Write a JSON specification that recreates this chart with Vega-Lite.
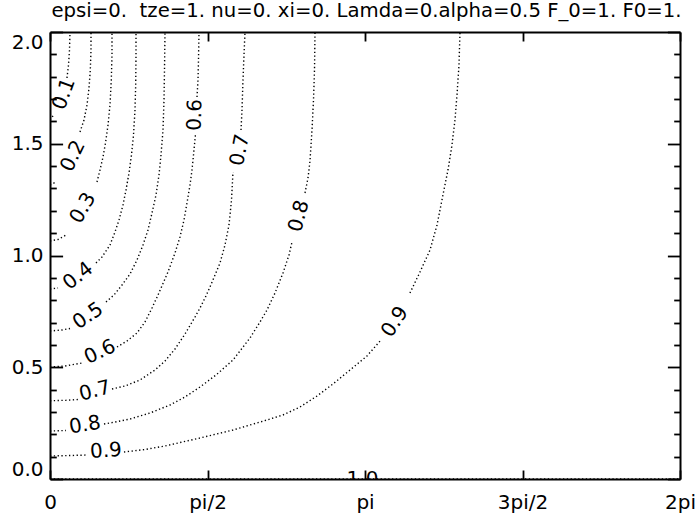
{
  "$schema": "https://vega.github.io/schema/vega-lite/v6.json",
  "width": 630,
  "height": 447,
  "autosize": {"type": "none"},
  "padding": {"left": 50, "top": 32, "right": 15, "bottom": 38},
  "background": "white",
  "config": {"view": {"stroke": null}, "font": "DejaVu Sans"},
  "title": {"text": "epsi=0.\u00a0 tze=1. nu=0. xi=0. Lamda=0.alpha=0.5 F_0=1. F0=1.", "font": "DejaVu Sans", "fontSize": 19.7, "fontWeight": "normal", "color": "black", "anchor": "middle", "frame": "group", "baseline": "alphabetic", "offset": 14, "dx": 1.5, "dy": 20},
  "datasets": {
    "contours": [
      {"level": 0.1, "seg": "0.1a", "x": 0, "y": 1.6063}, {"level": 0.1, "seg": "0.1a", "x": 0.0399, "y": 1.6309},
      {"level": 0.1, "seg": "0.1b", "x": 0.1695, "y": 1.7942}, {"level": 0.1, "seg": "0.1b", "x": 0.1845, "y": 1.8524}, {"level": 0.1, "seg": "0.1b", "x": 0.1945, "y": 1.9195}, {"level": 0.1, "seg": "0.1b", "x": 0.1995, "y": 2},
      {"level": 0.2, "seg": "0.2a", "x": 0, "y": 1.3154}, {"level": 0.2, "seg": "0.2a", "x": 0.0598, "y": 1.3289},
      {"level": 0.2, "seg": "0.2b", "x": 0.2992, "y": 1.5526}, {"level": 0.2, "seg": "0.2b", "x": 0.3391, "y": 1.6063}, {"level": 0.2, "seg": "0.2b", "x": 0.369, "y": 1.6734}, {"level": 0.2, "seg": "0.2b", "x": 0.389, "y": 1.7494}, {"level": 0.2, "seg": "0.2b", "x": 0.4019, "y": 1.83}, {"level": 0.2, "seg": "0.2b", "x": 0.4089, "y": 1.9195}, {"level": 0.2, "seg": "0.2b", "x": 0.4089, "y": 2},
      {"level": 0.3, "seg": "0.3a", "x": 0, "y": 1.0649}, {"level": 0.3, "seg": "0.3a", "x": 0.0798, "y": 1.0716}, {"level": 0.3, "seg": "0.3a", "x": 0.1596, "y": 1.0917},
      {"level": 0.3, "seg": "0.3b", "x": 0.4687, "y": 1.3289}, {"level": 0.3, "seg": "0.3b", "x": 0.4987, "y": 1.3826}, {"level": 0.3, "seg": "0.3b", "x": 0.5286, "y": 1.4407}, {"level": 0.3, "seg": "0.3b", "x": 0.5535, "y": 1.5034}, {"level": 0.3, "seg": "0.3b", "x": 0.5785, "y": 1.5839}, {"level": 0.3, "seg": "0.3b", "x": 0.5984, "y": 1.6734}, {"level": 0.3, "seg": "0.3b", "x": 0.6114, "y": 1.7852}, {"level": 0.3, "seg": "0.3b", "x": 0.6183, "y": 1.8971}, {"level": 0.3, "seg": "0.3b", "x": 0.6183, "y": 2},
      {"level": 0.4, "seg": "0.4a", "x": 0, "y": 0.8501}, {"level": 0.4, "seg": "0.4a", "x": 0.0798, "y": 0.8546},
      {"level": 0.4, "seg": "0.4b", "x": 0.4588, "y": 0.9664}, {"level": 0.4, "seg": "0.4b", "x": 0.5186, "y": 0.9933}, {"level": 0.4, "seg": "0.4b", "x": 0.5984, "y": 1.047}, {"level": 0.4, "seg": "0.4b", "x": 0.6483, "y": 1.1052}, {"level": 0.4, "seg": "0.4b", "x": 0.6882, "y": 1.1588}, {"level": 0.4, "seg": "0.4b", "x": 0.728, "y": 1.226}, {"level": 0.4, "seg": "0.4b", "x": 0.758, "y": 1.2931}, {"level": 0.4, "seg": "0.4b", "x": 0.7879, "y": 1.3691}, {"level": 0.4, "seg": "0.4b", "x": 0.8128, "y": 1.4497}, {"level": 0.4, "seg": "0.4b", "x": 0.8328, "y": 1.5392}, {"level": 0.4, "seg": "0.4b", "x": 0.8477, "y": 1.651}, {"level": 0.4, "seg": "0.4b", "x": 0.8547, "y": 1.7629}, {"level": 0.4, "seg": "0.4b", "x": 0.8577, "y": 1.8971}, {"level": 0.4, "seg": "0.4b", "x": 0.8577, "y": 2},
      {"level": 0.5, "seg": "0.5a", "x": 0, "y": 0.6622}, {"level": 0.5, "seg": "0.5a", "x": 0.1197, "y": 0.6667}, {"level": 0.5, "seg": "0.5a", "x": 0.1995, "y": 0.6734},
      {"level": 0.5, "seg": "0.5b", "x": 0.5585, "y": 0.792}, {"level": 0.5, "seg": "0.5b", "x": 0.6383, "y": 0.8233}, {"level": 0.5, "seg": "0.5b", "x": 0.7181, "y": 0.868}, {"level": 0.5, "seg": "0.5b", "x": 0.7979, "y": 0.9172}, {"level": 0.5, "seg": "0.5b", "x": 0.8677, "y": 0.9799}, {"level": 0.5, "seg": "0.5b", "x": 0.9275, "y": 1.047}, {"level": 0.5, "seg": "0.5b", "x": 0.9774, "y": 1.1141}, {"level": 0.5, "seg": "0.5b", "x": 1.0173, "y": 1.1902}, {"level": 0.5, "seg": "0.5b", "x": 1.0572, "y": 1.2707}, {"level": 0.5, "seg": "0.5b", "x": 1.0871, "y": 1.3602}, {"level": 0.5, "seg": "0.5b", "x": 1.107, "y": 1.4497}, {"level": 0.5, "seg": "0.5b", "x": 1.127, "y": 1.5615}, {"level": 0.5, "seg": "0.5b", "x": 1.137, "y": 1.6958}, {"level": 0.5, "seg": "0.5b", "x": 1.1419, "y": 1.83}, {"level": 0.5, "seg": "0.5b", "x": 1.1469, "y": 2},
      {"level": 0.6, "seg": "0.6a", "x": 0, "y": 0.5011}, {"level": 0.6, "seg": "0.6a", "x": 0.1496, "y": 0.5056}, {"level": 0.6, "seg": "0.6a", "x": 0.3191, "y": 0.519},
      {"level": 0.6, "seg": "0.6b", "x": 0.6682, "y": 0.5906}, {"level": 0.6, "seg": "0.6b", "x": 0.7679, "y": 0.6175}, {"level": 0.6, "seg": "0.6b", "x": 0.8677, "y": 0.6532}, {"level": 0.6, "seg": "0.6b", "x": 0.9475, "y": 0.7025}, {"level": 0.6, "seg": "0.6b", "x": 1.0173, "y": 0.7651}, {"level": 0.6, "seg": "0.6b", "x": 1.0771, "y": 0.8233}, {"level": 0.6, "seg": "0.6b", "x": 1.1768, "y": 0.9262}, {"level": 0.6, "seg": "0.6b", "x": 1.2467, "y": 1.0112}, {"level": 0.6, "seg": "0.6b", "x": 1.2965, "y": 1.0828}, {"level": 0.6, "seg": "0.6b", "x": 1.3364, "y": 1.1588}, {"level": 0.6, "seg": "0.6b", "x": 1.3663, "y": 1.2349}, {"level": 0.6, "seg": "0.6b", "x": 1.3963, "y": 1.3154}, {"level": 0.6, "seg": "0.6b", "x": 1.4162, "y": 1.3826}, {"level": 0.6, "seg": "0.6b", "x": 1.4362, "y": 1.472}, {"level": 0.6, "seg": "0.6b", "x": 1.4511, "y": 1.5436},
      {"level": 0.6, "seg": "0.6c", "x": 1.4661, "y": 1.7092}, {"level": 0.6, "seg": "0.6c", "x": 1.476, "y": 1.7852}, {"level": 0.6, "seg": "0.6c", "x": 1.481, "y": 1.8747}, {"level": 0.6, "seg": "0.6c", "x": 1.486, "y": 2},
      {"level": 0.7, "seg": "0.7a", "x": 0, "y": 0.3503}, {"level": 0.7, "seg": "0.7a", "x": 0.1596, "y": 0.3521}, {"level": 0.7, "seg": "0.7a", "x": 0.2793, "y": 0.3557},
      {"level": 0.7, "seg": "0.7b", "x": 0.6183, "y": 0.4027}, {"level": 0.7, "seg": "0.7b", "x": 0.748, "y": 0.4161}, {"level": 0.7, "seg": "0.7b", "x": 0.8976, "y": 0.443}, {"level": 0.7, "seg": "0.7b", "x": 1.0472, "y": 0.4877}, {"level": 0.7, "seg": "0.7b", "x": 1.1469, "y": 0.528}, {"level": 0.7, "seg": "0.7b", "x": 1.2467, "y": 0.5817}, {"level": 0.7, "seg": "0.7b", "x": 1.3464, "y": 0.6488}, {"level": 0.7, "seg": "0.7b", "x": 1.4461, "y": 0.7248}, {"level": 0.7, "seg": "0.7b", "x": 1.496, "y": 0.7651}, {"level": 0.7, "seg": "0.7b", "x": 1.5459, "y": 0.8098}, {"level": 0.7, "seg": "0.7b", "x": 1.5957, "y": 0.8591}, {"level": 0.7, "seg": "0.7b", "x": 1.6456, "y": 0.9128}, {"level": 0.7, "seg": "0.7b", "x": 1.6955, "y": 0.9664}, {"level": 0.7, "seg": "0.7b", "x": 1.7453, "y": 1.047}, {"level": 0.7, "seg": "0.7b", "x": 1.7852, "y": 1.1365}, {"level": 0.7, "seg": "0.7b", "x": 1.8102, "y": 1.2483}, {"level": 0.7, "seg": "0.7b", "x": 1.8251, "y": 1.3736},
      {"level": 0.7, "seg": "0.7c", "x": 1.9049, "y": 1.5615}, {"level": 0.7, "seg": "0.7c", "x": 1.9149, "y": 1.651}, {"level": 0.7, "seg": "0.7c", "x": 1.9248, "y": 1.7852}, {"level": 0.7, "seg": "0.7c", "x": 1.9348, "y": 1.8971}, {"level": 0.7, "seg": "0.7c", "x": 1.9448, "y": 2},
      {"level": 0.8, "seg": "0.8a", "x": 0, "y": 0.2148}, {"level": 0.8, "seg": "0.8a", "x": 0.1596, "y": 0.217},
      {"level": 0.8, "seg": "0.8b", "x": 0.5386, "y": 0.2461}, {"level": 0.8, "seg": "0.8b", "x": 0.5984, "y": 0.2506}, {"level": 0.8, "seg": "0.8b", "x": 0.7979, "y": 0.2685}, {"level": 0.8, "seg": "0.8b", "x": 0.9973, "y": 0.2953}, {"level": 0.8, "seg": "0.8b", "x": 1.1968, "y": 0.3311}, {"level": 0.8, "seg": "0.8b", "x": 1.3464, "y": 0.3669}, {"level": 0.8, "seg": "0.8b", "x": 1.496, "y": 0.4116}, {"level": 0.8, "seg": "0.8b", "x": 1.6556, "y": 0.4653}, {"level": 0.8, "seg": "0.8b", "x": 1.8251, "y": 0.5324}, {"level": 0.8, "seg": "0.8b", "x": 1.9946, "y": 0.6309}, {"level": 0.8, "seg": "0.8b", "x": 2.0944, "y": 0.7025}, {"level": 0.8, "seg": "0.8b", "x": 2.1642, "y": 0.7562}, {"level": 0.8, "seg": "0.8b", "x": 2.244, "y": 0.8322}, {"level": 0.8, "seg": "0.8b", "x": 2.3238, "y": 0.9217}, {"level": 0.8, "seg": "0.8b", "x": 2.3836, "y": 1.0022}, {"level": 0.8, "seg": "0.8b", "x": 2.4135, "y": 1.0604},
      {"level": 0.8, "seg": "0.8c", "x": 2.5432, "y": 1.2796}, {"level": 0.8, "seg": "0.8c", "x": 2.5731, "y": 1.3468}, {"level": 0.8, "seg": "0.8c", "x": 2.593, "y": 1.4228}, {"level": 0.8, "seg": "0.8c", "x": 2.613, "y": 1.5615}, {"level": 0.8, "seg": "0.8c", "x": 2.628, "y": 1.6958}, {"level": 0.8, "seg": "0.8c", "x": 2.638, "y": 1.83}, {"level": 0.8, "seg": "0.8c", "x": 2.643, "y": 2},
      {"level": 0.9, "seg": "0.9a", "x": 0, "y": 0.1029}, {"level": 0.9, "seg": "0.9a", "x": 0.1995, "y": 0.1051}, {"level": 0.9, "seg": "0.9a", "x": 0.379, "y": 0.1074},
      {"level": 0.9, "seg": "0.9b", "x": 0.738, "y": 0.1208}, {"level": 0.9, "seg": "0.9b", "x": 0.9475, "y": 0.132}, {"level": 0.9, "seg": "0.9b", "x": 1.147, "y": 0.1477}, {"level": 0.9, "seg": "0.9b", "x": 1.496, "y": 0.1834}, {"level": 0.9, "seg": "0.9b", "x": 1.825, "y": 0.2192}, {"level": 0.9, "seg": "0.9b", "x": 2.164, "y": 0.264}, {"level": 0.9, "seg": "0.9b", "x": 2.3238, "y": 0.2864}, {"level": 0.9, "seg": "0.9b", "x": 2.493, "y": 0.3221}, {"level": 0.9, "seg": "0.9b", "x": 2.6629, "y": 0.3714}, {"level": 0.9, "seg": "0.9b", "x": 2.822, "y": 0.4251}, {"level": 0.9, "seg": "0.9b", "x": 2.992, "y": 0.4877}, {"level": 0.9, "seg": "0.9b", "x": 3.161, "y": 0.5503}, {"level": 0.9, "seg": "0.9b", "x": 3.301, "y": 0.622},
      {"level": 0.9, "seg": "0.9c", "x": 3.59, "y": 0.8322}, {"level": 0.9, "seg": "0.9c", "x": 3.69, "y": 0.9262}, {"level": 0.9, "seg": "0.9c", "x": 3.79, "y": 1.0246}, {"level": 0.9, "seg": "0.9c", "x": 3.86, "y": 1.1365}, {"level": 0.9, "seg": "0.9c", "x": 3.919, "y": 1.2707}, {"level": 0.9, "seg": "0.9c", "x": 3.969, "y": 1.3826}, {"level": 0.9, "seg": "0.9c", "x": 4.009, "y": 1.4944}, {"level": 0.9, "seg": "0.9c", "x": 4.039, "y": 1.6063}, {"level": 0.9, "seg": "0.9c", "x": 4.059, "y": 1.7181}, {"level": 0.9, "seg": "0.9c", "x": 4.079, "y": 1.8524}, {"level": 0.9, "seg": "0.9c", "x": 4.089, "y": 2},
      {"level": 1.0, "seg": "1.0a", "x": 0, "y": 0}, {"level": 1.0, "seg": "1.0a", "x": 6.2832, "y": 0}
    ],
    "labels": [
      {"id": "0.1", "text": "0.1", "x": 0.1396, "y": 1.7226},
      {"id": "0.2", "text": "0.2", "x": 0.2294, "y": 1.4452},
      {"id": "0.3", "text": "0.3", "x": 0.3291, "y": 1.2125},
      {"id": "0.4", "text": "0.4", "x": 0.2793, "y": 0.9083},
      {"id": "0.5", "text": "0.5", "x": 0.379, "y": 0.7293},
      {"id": "0.6a", "text": "0.6", "x": 0.4987, "y": 0.5682},
      {"id": "0.6b", "text": "0.6", "x": 1.4461, "y": 1.6286},
      {"id": "0.7a", "text": "0.7", "x": 0.4488, "y": 0.3937},
      {"id": "0.7b", "text": "0.7", "x": 1.8949, "y": 1.472},
      {"id": "0.8a", "text": "0.8", "x": 0.3491, "y": 0.2416},
      {"id": "0.8b", "text": "0.8", "x": 2.4833, "y": 1.1767},
      {"id": "0.9a", "text": "0.9", "x": 0.5585, "y": 0.1253},
      {"id": "0.9b", "text": "0.9", "x": 3.4408, "y": 0.7025},
      {"id": "1.0", "text": "1.0", "x": 3.1167, "y": 0}
    ]
  },
  "layer": [
    {
      "data": {"name": "contours"},
      "mark": {"type": "line", "color": "black", "strokeWidth": 1.4, "strokeDash": [1.3, 2.5], "strokeCap": "butt", "clip": true},
      "encoding": {
        "x": {"field": "x", "type": "quantitative", "scale": {"domain": [0, 6.2832], "nice": false, "zero": false},
          "axis": {"orient": "bottom", "title": null, "grid": false, "values": [0, 1.5708, 3.1416, 4.7124, 6.2832], "labelExpr": "['0','pi/2','pi','3pi/2','2pi'][round(datum.value/1.5708)]", "tickSize": -9, "tickWidth": 1.8, "tickColor": "black", "domainColor": "black", "domainWidth": 2, "labelFont": "DejaVu Sans", "labelFontSize": 20, "labelColor": "black", "labelPadding": 22, "labelFlush": false, "labelOverlap": false, "labelBound": false}},
        "y": {"field": "y", "type": "quantitative", "scale": {"domain": [0, 2], "nice": false, "zero": false},
          "axis": {"orient": "left", "title": null, "grid": false, "values": [0, 0.1, 0.2, 0.3, 0.4, 0.5, 0.6, 0.7, 0.8, 0.9, 1, 1.1, 1.2, 1.3, 1.4, 1.5, 1.6, 1.7, 1.8, 1.9, 2], "labelExpr": "abs(datum.value*2 - round(datum.value*2)) < 0.01 ? format(datum.value, '.1f') : ''", "tickSize": {"condition": {"test": "abs(datum.value*2 - round(datum.value*2)) < 0.01", "value": -12.6}, "value": -6.3}, "tickWidth": 1.8, "tickColor": "black", "domainColor": "black", "domainWidth": 2, "labelFont": "DejaVu Sans", "labelFontSize": 20, "labelColor": "black", "labelPadding": 19.6, "labelFlush": true, "labelOverlap": false}},
        "detail": {"field": "seg"},
        "order": {"field": "y"}
      }
    },
    {
      "data": {"name": "labels"},
      "transform": [{"filter": "datum.id === '0.1'"}],
      "mark": {"type": "text", "angle": 290, "font": "DejaVu Sans", "fontSize": 20, "color": "black", "align": "center", "baseline": "middle"},
      "encoding": {
        "x": {"field": "x", "type": "quantitative", "scale": {"domain": [0, 6.2832], "nice": false, "zero": false},
          "axis": {"orient": "top", "title": null, "grid": false, "labels": false, "values": [0, 1.5708, 3.1416, 4.7124, 6.2832], "tickSize": -9, "tickWidth": 1.8, "tickColor": "black", "domainColor": "black", "domainWidth": 2}},
        "y": {"field": "y", "type": "quantitative", "scale": {"domain": [0, 2], "nice": false, "zero": false},
          "axis": {"orient": "right", "title": null, "grid": false, "labels": false, "values": [0, 0.1, 0.2, 0.3, 0.4, 0.5, 0.6, 0.7, 0.8, 0.9, 1, 1.1, 1.2, 1.3, 1.4, 1.5, 1.6, 1.7, 1.8, 1.9, 2], "tickSize": {"condition": {"test": "abs(datum.value*2 - round(datum.value*2)) < 0.01", "value": -12.6}, "value": -6.3}, "tickWidth": 1.8, "tickColor": "black", "domainColor": "black", "domainWidth": 2}},
        "text": {"field": "text"}
      }
    },
    {"data": {"name": "labels"}, "transform": [{"filter": "datum.id === '0.2'"}], "mark": {"type": "text", "angle": 296, "font": "DejaVu Sans", "fontSize": 20, "color": "black", "align": "center", "baseline": "middle"}, "encoding": {"x": {"field": "x", "type": "quantitative", "scale": {"domain": [0, 6.2832], "nice": false, "zero": false}, "axis": null}, "y": {"field": "y", "type": "quantitative", "scale": {"domain": [0, 2], "nice": false, "zero": false}, "axis": null}, "text": {"field": "text"}}},
    {"data": {"name": "labels"}, "transform": [{"filter": "datum.id === '0.3'"}], "mark": {"type": "text", "angle": 300, "font": "DejaVu Sans", "fontSize": 20, "color": "black", "align": "center", "baseline": "middle"}, "encoding": {"x": {"field": "x", "type": "quantitative", "scale": {"domain": [0, 6.2832], "nice": false, "zero": false}, "axis": null}, "y": {"field": "y", "type": "quantitative", "scale": {"domain": [0, 2], "nice": false, "zero": false}, "axis": null}, "text": {"field": "text"}}},
    {"data": {"name": "labels"}, "transform": [{"filter": "datum.id === '0.4'"}], "mark": {"type": "text", "angle": 322, "font": "DejaVu Sans", "fontSize": 20, "color": "black", "align": "center", "baseline": "middle"}, "encoding": {"x": {"field": "x", "type": "quantitative", "scale": {"domain": [0, 6.2832], "nice": false, "zero": false}, "axis": null}, "y": {"field": "y", "type": "quantitative", "scale": {"domain": [0, 2], "nice": false, "zero": false}, "axis": null}, "text": {"field": "text"}}},
    {"data": {"name": "labels"}, "transform": [{"filter": "datum.id === '0.5'"}], "mark": {"type": "text", "angle": 326, "font": "DejaVu Sans", "fontSize": 20, "color": "black", "align": "center", "baseline": "middle"}, "encoding": {"x": {"field": "x", "type": "quantitative", "scale": {"domain": [0, 6.2832], "nice": false, "zero": false}, "axis": null}, "y": {"field": "y", "type": "quantitative", "scale": {"domain": [0, 2], "nice": false, "zero": false}, "axis": null}, "text": {"field": "text"}}},
    {"data": {"name": "labels"}, "transform": [{"filter": "datum.id === '0.6a'"}], "mark": {"type": "text", "angle": 335, "font": "DejaVu Sans", "fontSize": 20, "color": "black", "align": "center", "baseline": "middle"}, "encoding": {"x": {"field": "x", "type": "quantitative", "scale": {"domain": [0, 6.2832], "nice": false, "zero": false}, "axis": null}, "y": {"field": "y", "type": "quantitative", "scale": {"domain": [0, 2], "nice": false, "zero": false}, "axis": null}, "text": {"field": "text"}}},
    {"data": {"name": "labels"}, "transform": [{"filter": "datum.id === '0.6b'"}], "mark": {"type": "text", "angle": 272, "font": "DejaVu Sans", "fontSize": 20, "color": "black", "align": "center", "baseline": "middle"}, "encoding": {"x": {"field": "x", "type": "quantitative", "scale": {"domain": [0, 6.2832], "nice": false, "zero": false}, "axis": null}, "y": {"field": "y", "type": "quantitative", "scale": {"domain": [0, 2], "nice": false, "zero": false}, "axis": null}, "text": {"field": "text"}}},
    {"data": {"name": "labels"}, "transform": [{"filter": "datum.id === '0.7a'"}], "mark": {"type": "text", "angle": 346, "font": "DejaVu Sans", "fontSize": 20, "color": "black", "align": "center", "baseline": "middle"}, "encoding": {"x": {"field": "x", "type": "quantitative", "scale": {"domain": [0, 6.2832], "nice": false, "zero": false}, "axis": null}, "y": {"field": "y", "type": "quantitative", "scale": {"domain": [0, 2], "nice": false, "zero": false}, "axis": null}, "text": {"field": "text"}}},
    {"data": {"name": "labels"}, "transform": [{"filter": "datum.id === '0.7b'"}], "mark": {"type": "text", "angle": 281, "font": "DejaVu Sans", "fontSize": 20, "color": "black", "align": "center", "baseline": "middle"}, "encoding": {"x": {"field": "x", "type": "quantitative", "scale": {"domain": [0, 6.2832], "nice": false, "zero": false}, "axis": null}, "y": {"field": "y", "type": "quantitative", "scale": {"domain": [0, 2], "nice": false, "zero": false}, "axis": null}, "text": {"field": "text"}}},
    {"data": {"name": "labels"}, "transform": [{"filter": "datum.id === '0.8a'"}], "mark": {"type": "text", "angle": 351, "font": "DejaVu Sans", "fontSize": 20, "color": "black", "align": "center", "baseline": "middle"}, "encoding": {"x": {"field": "x", "type": "quantitative", "scale": {"domain": [0, 6.2832], "nice": false, "zero": false}, "axis": null}, "y": {"field": "y", "type": "quantitative", "scale": {"domain": [0, 2], "nice": false, "zero": false}, "axis": null}, "text": {"field": "text"}}},
    {"data": {"name": "labels"}, "transform": [{"filter": "datum.id === '0.8b'"}], "mark": {"type": "text", "angle": 285, "font": "DejaVu Sans", "fontSize": 20, "color": "black", "align": "center", "baseline": "middle"}, "encoding": {"x": {"field": "x", "type": "quantitative", "scale": {"domain": [0, 6.2832], "nice": false, "zero": false}, "axis": null}, "y": {"field": "y", "type": "quantitative", "scale": {"domain": [0, 2], "nice": false, "zero": false}, "axis": null}, "text": {"field": "text"}}},
    {"data": {"name": "labels"}, "transform": [{"filter": "datum.id === '0.9a'"}], "mark": {"type": "text", "angle": 356, "font": "DejaVu Sans", "fontSize": 20, "color": "black", "align": "center", "baseline": "middle"}, "encoding": {"x": {"field": "x", "type": "quantitative", "scale": {"domain": [0, 6.2832], "nice": false, "zero": false}, "axis": null}, "y": {"field": "y", "type": "quantitative", "scale": {"domain": [0, 2], "nice": false, "zero": false}, "axis": null}, "text": {"field": "text"}}},
    {"data": {"name": "labels"}, "transform": [{"filter": "datum.id === '0.9b'"}], "mark": {"type": "text", "angle": 303, "font": "DejaVu Sans", "fontSize": 20, "color": "black", "align": "center", "baseline": "middle"}, "encoding": {"x": {"field": "x", "type": "quantitative", "scale": {"domain": [0, 6.2832], "nice": false, "zero": false}, "axis": null}, "y": {"field": "y", "type": "quantitative", "scale": {"domain": [0, 2], "nice": false, "zero": false}, "axis": null}, "text": {"field": "text"}}},
    {"data": {"name": "labels"}, "transform": [{"filter": "datum.id === '1.0'"}], "mark": {"type": "text", "angle": 0, "font": "DejaVu Sans", "fontSize": 20, "color": "black", "align": "center", "baseline": "middle", "clip": true}, "encoding": {"x": {"field": "x", "type": "quantitative", "scale": {"domain": [0, 6.2832], "nice": false, "zero": false}, "axis": null}, "y": {"field": "y", "type": "quantitative", "scale": {"domain": [0, 2], "nice": false, "zero": false}, "axis": null}, "text": {"field": "text"}}}
  ],
  "resolve": {"axis": {"x": "independent", "y": "independent"}}
}
